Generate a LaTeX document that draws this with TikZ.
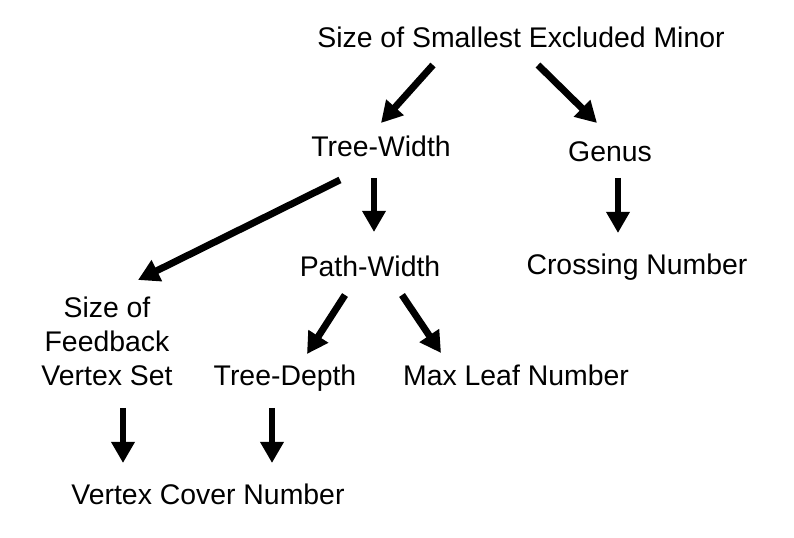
\documentclass[tikz,border=0pt]{standalone}
\usepackage{fontspec}
\setmainfont{Liberation Sans}
\usetikzlibrary{arrows.meta}
\tikzset{
  lbl/.style={anchor=base, inner sep=0pt, outer sep=0pt, align=center,
    font=\fontsize{21.3}{25.5}\selectfont},
  arr/.style={line width=5.2pt, line cap=butt,
    -{Triangle[length=15.8pt, width=16.8pt]}}
}
\begin{document}
\begin{tikzpicture}[x=0.75pt, y=-0.75pt]
\useasboundingbox (0,0) rectangle (794,538);
% nodes
\node[lbl] (sem) at (521,48) {Size of Smallest Excluded Minor};
\node[lbl] (tw)  at (381,157) {Tree-Width};
\node[lbl] (gen) at (610,162) {Genus};
\node[lbl] (pw)  at (370,277) {Path-Width};
\node[lbl] (cn)  at (637,275) {Crossing Number};
\node[lbl] (fvs) at (107,386) {Size of\\Feedback\\Vertex Set};
\node[lbl] (td)  at (285,386) {Tree-Depth};
\node[lbl] (mln) at (516,386) {Max Leaf Number};
\node[lbl] (vcn) at (208,505) {Vertex Cover Number};
% arrow ends
\coordinate (semL) at (433,65);  \coordinate (twT)  at (381,123);
\coordinate (semR) at (538,65);  \coordinate (genT) at (597,123);
\coordinate (twL)  at (340,180); \coordinate (fvsT) at (138,280);
\coordinate (twB)  at (374,178); \coordinate (pwT)  at (374,232);
\coordinate (genB) at (618,178); \coordinate (cnT)  at (618,233);
\coordinate (pwL)  at (345,295); \coordinate (tdT)  at (307,354);
\coordinate (pwR)  at (402,295); \coordinate (mlnT) at (441,353);
\coordinate (fvsB) at (123,408); \coordinate (vcnL) at (123,463);
\coordinate (tdB)  at (272,408); \coordinate (vcnR) at (272,463);
% connectors
\draw[arr] (semL) -- (twT);
\draw[arr] (semR) -- (genT);
\draw[arr] (twL) -- (fvsT);
\draw[arr] (twB) -- (pwT);
\draw[arr] (genB) -- (cnT);
\draw[arr] (pwL) -- (tdT);
\draw[arr] (pwR) -- (mlnT);
\draw[arr] (fvsB) -- (vcnL);
\draw[arr] (tdB) -- (vcnR);
\end{tikzpicture}
\end{document}
